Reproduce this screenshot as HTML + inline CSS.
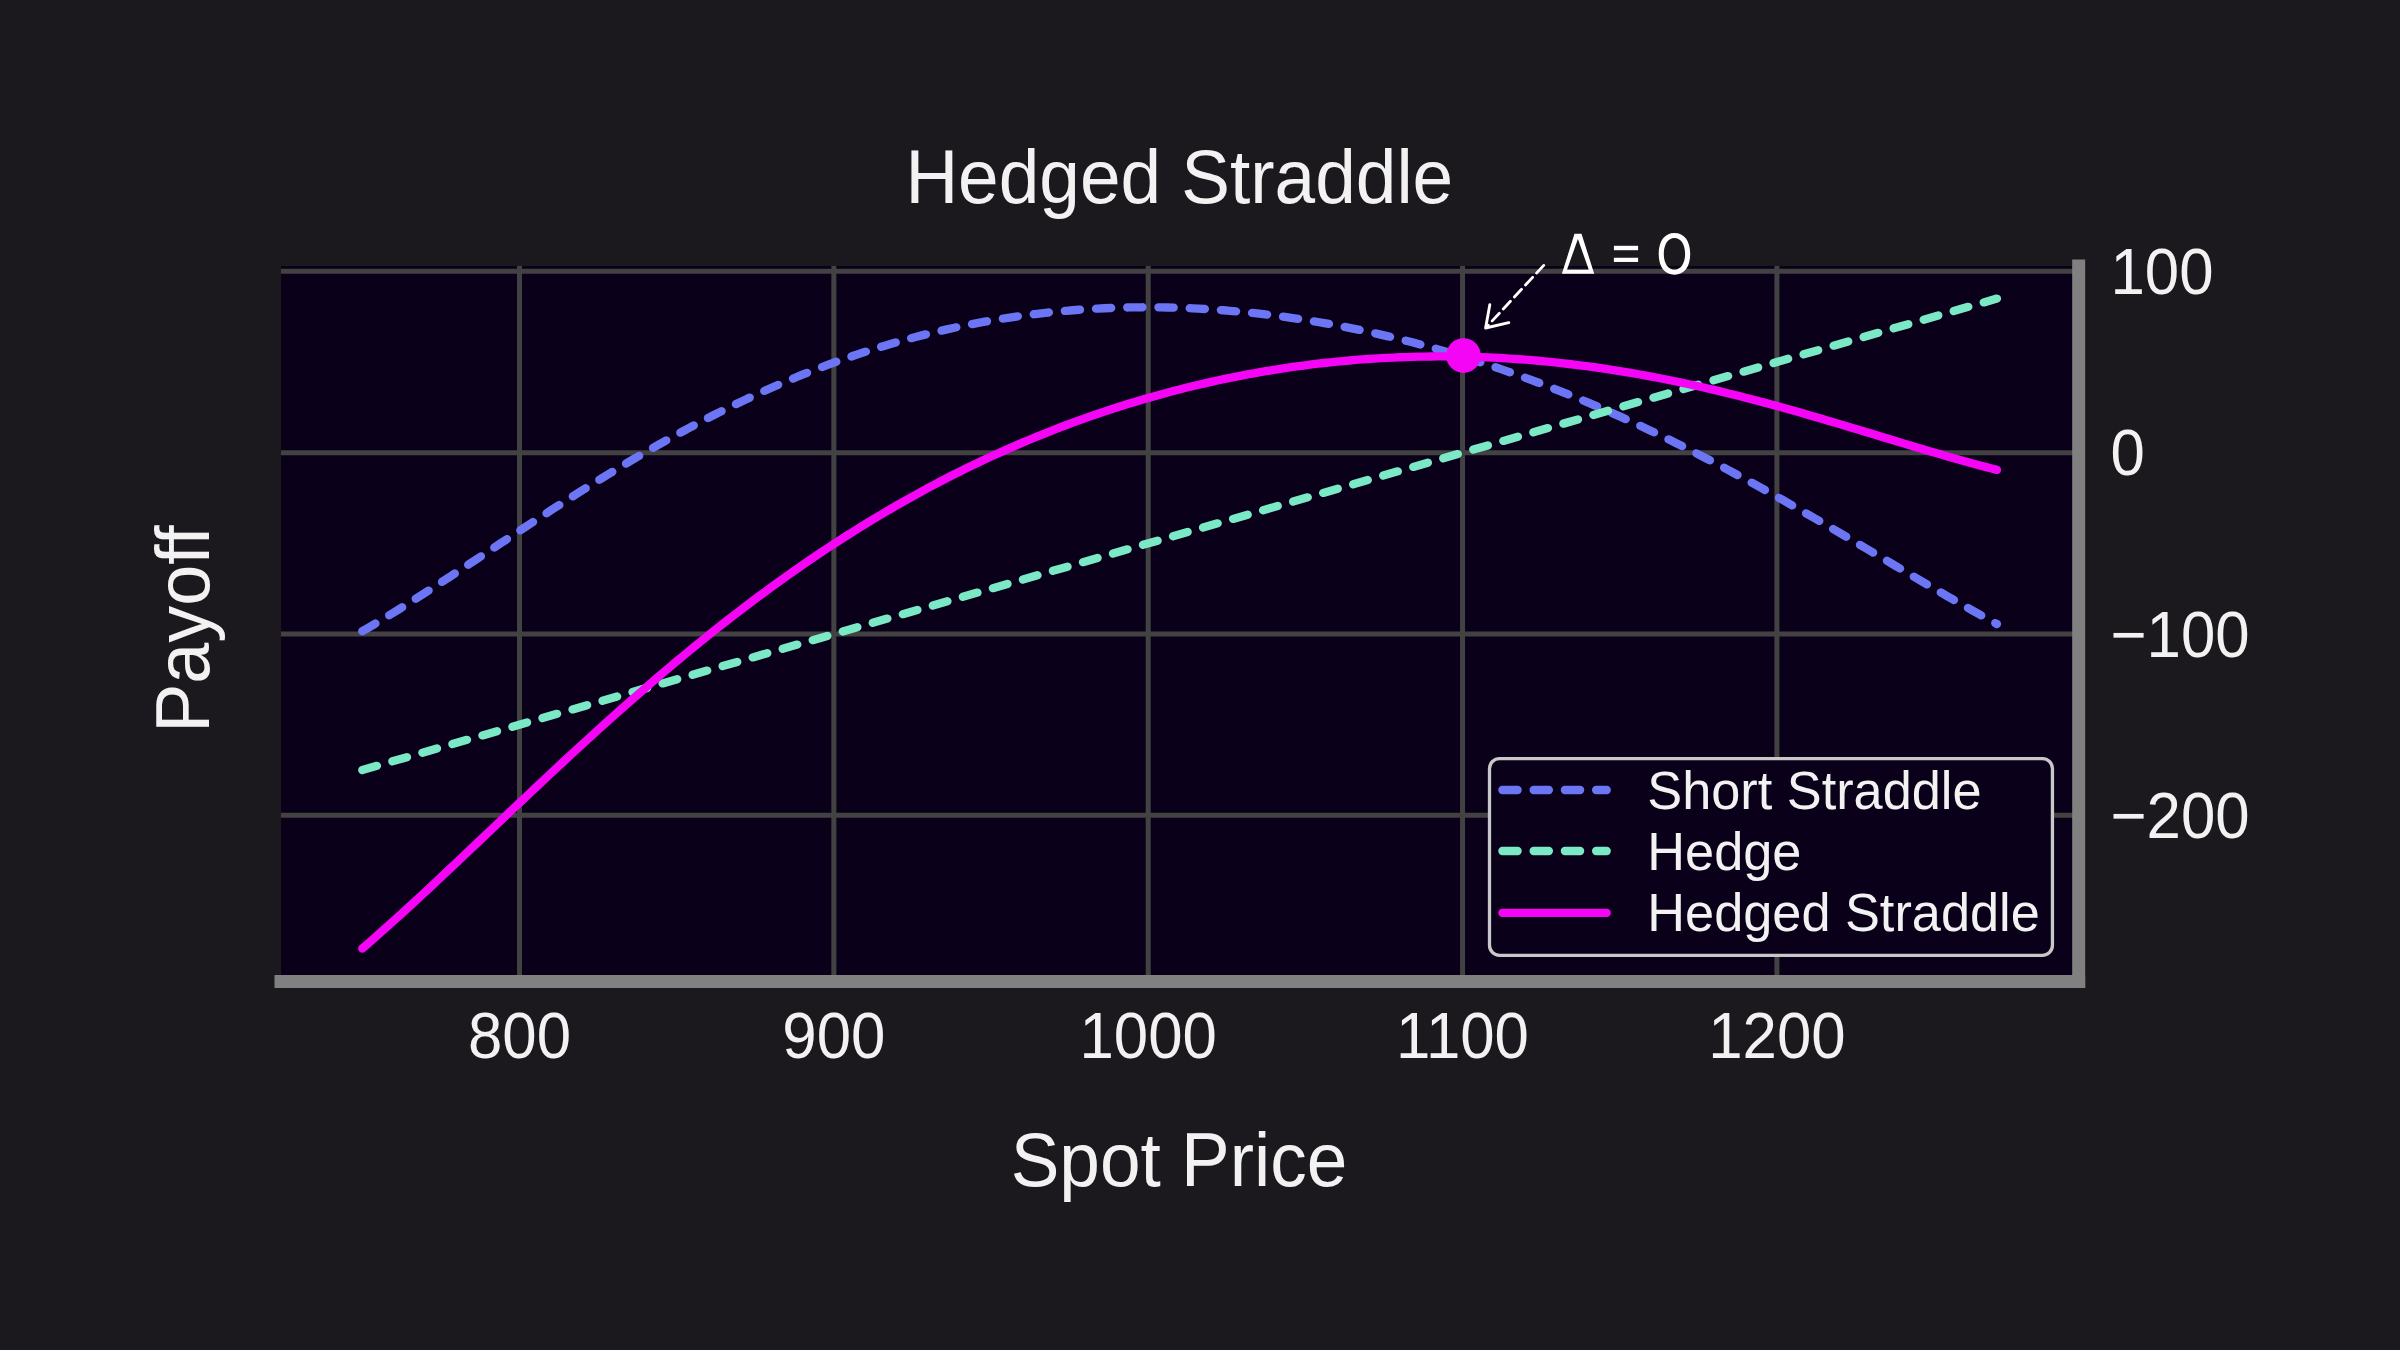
<!DOCTYPE html>
<html><head><meta charset="utf-8"><title>Hedged Straddle</title>
<style>
html,body{margin:0;padding:0;background:#1b191e;}
body{width:2400px;height:1350px;overflow:hidden;}
svg{display:block;font-family:"Liberation Sans",sans-serif;}
</style></head><body>
<svg width="2400" height="1350" viewBox="0 0 2400 1350">
<rect x="0" y="0" width="2400" height="1350" fill="#1b191e"/>
<rect x="281.00" y="266.11" width="1797.68" height="715.35" fill="#0a0019"/>
<path d="M519.50 266.11V981.46M833.85 266.11V981.46M1148.20 266.11V981.46M1462.55 266.11V981.46M1776.90 266.11V981.46M281.00 271.37H2078.68M281.00 452.70H2078.68M281.00 634.03H2078.68M281.00 815.36H2078.68" stroke="#424242" stroke-width="5" fill="none"/>
<polyline points="362.32,631.16 368.61,627.53 374.90,623.84 381.19,620.10 387.47,616.31 393.76,612.48 400.05,608.60 406.33,604.69 412.62,600.74 418.91,596.75 425.19,592.74 431.48,588.70 437.77,584.64 444.06,580.55 450.34,576.45 456.63,572.33 462.92,568.20 469.20,564.06 475.49,559.92 481.78,555.77 488.06,551.61 494.35,547.46 500.64,543.30 506.93,539.15 513.21,535.01 519.50,530.87 525.79,526.75 532.07,522.63 538.36,518.53 544.65,514.44 550.93,510.37 557.22,506.32 563.51,502.29 569.80,498.28 576.08,494.30 582.37,490.34 588.66,486.40 594.94,482.49 601.23,478.61 607.52,474.76 613.80,470.94 620.09,467.15 626.38,463.40 632.67,459.67 638.95,455.99 645.24,452.34 651.53,448.72 657.81,445.15 664.10,441.61 670.39,438.11 676.67,434.65 682.96,431.23 689.25,427.86 695.54,424.52 701.82,421.23 708.11,417.98 714.40,414.77 720.68,411.61 726.97,408.49 733.26,405.42 739.54,402.40 745.83,399.42 752.12,396.48 758.41,393.59 764.69,390.75 770.98,387.96 777.27,385.21 783.55,382.51 789.84,379.86 796.13,377.26 802.41,374.70 808.70,372.20 814.99,369.74 821.28,367.33 827.56,364.97 833.85,362.66 840.14,360.39 846.42,358.18 852.71,356.01 859.00,353.89 865.28,351.82 871.57,349.80 877.86,347.83 884.15,345.91 890.43,344.04 896.72,342.21 903.01,340.43 909.29,338.70 915.58,337.02 921.87,335.39 928.15,333.81 934.44,332.27 940.73,330.78 947.02,329.34 953.30,327.95 959.59,326.60 965.88,325.30 972.16,324.05 978.45,322.85 984.74,321.69 991.02,320.57 997.31,319.51 1003.60,318.49 1009.89,317.51 1016.17,316.59 1022.46,315.70 1028.75,314.86 1035.03,314.07 1041.32,313.32 1047.61,312.62 1053.89,311.96 1060.18,311.35 1066.47,310.78 1072.76,310.25 1079.04,309.77 1085.33,309.33 1091.62,308.93 1097.90,308.58 1104.19,308.27 1110.48,308.00 1116.76,307.77 1123.05,307.59 1129.34,307.45 1135.63,307.35 1141.91,307.29 1148.20,307.28 1154.49,307.30 1160.77,307.37 1167.06,307.48 1173.35,307.63 1179.63,307.82 1185.92,308.05 1192.21,308.32 1198.50,308.63 1204.78,308.98 1211.07,309.37 1217.36,309.80 1223.64,310.27 1229.93,310.78 1236.22,311.33 1242.51,311.92 1248.79,312.54 1255.08,313.21 1261.37,313.92 1267.65,314.66 1273.94,315.45 1280.23,316.27 1286.51,317.13 1292.80,318.03 1299.09,318.96 1305.38,319.94 1311.66,320.96 1317.95,322.01 1324.24,323.10 1330.52,324.23 1336.81,325.39 1343.10,326.60 1349.38,327.84 1355.67,329.12 1361.96,330.44 1368.24,331.80 1374.53,333.19 1380.82,334.62 1387.11,336.09 1393.39,337.60 1399.68,339.14 1405.97,340.72 1412.25,342.34 1418.54,344.00 1424.83,345.69 1431.12,347.42 1437.40,349.19 1443.69,351.00 1449.98,352.84 1456.26,354.72 1462.55,356.64 1468.84,358.59 1475.12,360.58 1481.41,362.61 1487.70,364.67 1493.99,366.77 1500.27,368.91 1506.56,371.09 1512.85,373.30 1519.13,375.55 1525.42,377.83 1531.71,380.15 1537.99,382.51 1544.28,384.90 1550.57,387.33 1556.86,389.80 1563.14,392.30 1569.43,394.83 1575.72,397.41 1582.00,400.01 1588.29,402.66 1594.58,405.33 1600.86,408.04 1607.15,410.79 1613.44,413.57 1619.72,416.39 1626.01,419.23 1632.30,422.11 1638.59,425.03 1644.87,427.98 1651.16,430.96 1657.45,433.97 1663.73,437.01 1670.02,440.09 1676.31,443.19 1682.60,446.33 1688.88,449.50 1695.17,452.69 1701.46,455.92 1707.74,459.18 1714.03,462.46 1720.32,465.77 1726.60,469.10 1732.89,472.47 1739.18,475.86 1745.46,479.27 1751.75,482.71 1758.04,486.17 1764.33,489.66 1770.61,493.16 1776.90,496.69 1783.19,500.24 1789.47,503.81 1795.76,507.39 1802.05,511.00 1808.34,514.62 1814.62,518.25 1820.91,521.90 1827.20,525.56 1833.48,529.24 1839.77,532.92 1846.06,536.62 1852.34,540.32 1858.63,544.03 1864.92,547.74 1871.20,551.46 1877.49,555.18 1883.78,558.91 1890.07,562.63 1896.35,566.35 1902.64,570.06 1908.93,573.77 1915.21,577.48 1921.50,581.17 1927.79,584.85 1934.08,588.52 1940.36,592.17 1946.65,595.81 1952.94,599.42 1959.22,603.02 1965.51,606.59 1971.80,610.13 1978.08,613.64 1984.37,617.13 1990.66,620.58 1996.94,623.99" fill="none" stroke="#6c75f3" stroke-width="8.33" stroke-linecap="round" stroke-linejoin="round" stroke-dasharray="15.2 16.05"/>
<polyline points="362.32,770.03 1996.94,298.57" fill="none" stroke="#7be9c6" stroke-width="8.33" stroke-linecap="round" stroke-linejoin="round" stroke-dasharray="15.2 16.05"/>
<polyline points="362.32,948.49 368.61,943.04 374.90,937.54 381.19,931.99 387.47,926.39 393.76,920.74 400.05,915.05 406.33,909.32 412.62,903.56 418.91,897.76 425.19,891.93 431.48,886.08 437.77,880.20 444.06,874.31 450.34,868.39 456.63,862.46 462.92,856.52 469.20,850.57 475.49,844.61 481.78,838.64 488.06,832.67 494.35,826.70 500.64,820.74 506.93,814.77 513.21,808.82 519.50,802.87 525.79,796.93 532.07,791.00 538.36,785.09 544.65,779.19 550.93,773.30 557.22,767.44 563.51,761.60 569.80,755.77 576.08,749.97 582.37,744.20 588.66,738.45 594.94,732.73 601.23,727.03 607.52,721.37 613.80,715.73 620.09,710.13 626.38,704.56 632.67,699.03 638.95,693.53 645.24,688.07 651.53,682.64 657.81,677.25 664.10,671.90 670.39,666.58 676.67,661.31 682.96,656.08 689.25,650.89 695.54,645.74 701.82,640.64 708.11,635.57 714.40,630.56 720.68,625.58 726.97,620.65 733.26,615.77 739.54,610.93 745.83,606.13 752.12,601.38 758.41,596.68 764.69,592.03 770.98,587.42 777.27,582.86 783.55,578.35 789.84,573.89 796.13,569.47 802.41,565.10 808.70,560.78 814.99,556.51 821.28,552.29 827.56,548.11 833.85,543.99 840.14,539.91 846.42,535.88 852.71,531.90 859.00,527.97 865.28,524.09 871.57,520.25 877.86,516.47 884.15,512.73 890.43,509.05 896.72,505.41 903.01,501.82 909.29,498.28 915.58,494.78 921.87,491.34 928.15,487.94 934.44,484.59 940.73,481.29 947.02,478.03 953.30,474.83 959.59,471.67 965.88,468.55 972.16,465.49 978.45,462.47 984.74,459.50 991.02,456.57 997.31,453.69 1003.60,450.86 1009.89,448.07 1016.17,445.33 1022.46,442.63 1028.75,439.98 1035.03,437.38 1041.32,434.81 1047.61,432.30 1053.89,429.83 1060.18,427.40 1066.47,425.01 1072.76,422.67 1079.04,420.38 1085.33,418.13 1091.62,415.92 1097.90,413.75 1104.19,411.63 1110.48,409.54 1116.76,407.51 1123.05,405.51 1129.34,403.55 1135.63,401.64 1141.91,399.77 1148.20,397.94 1154.49,396.16 1160.77,394.41 1167.06,392.70 1173.35,391.04 1179.63,389.41 1185.92,387.83 1192.21,386.29 1198.50,384.79 1204.78,383.32 1211.07,381.90 1217.36,380.52 1223.64,379.17 1229.93,377.87 1236.22,376.61 1242.51,375.38 1248.79,374.20 1255.08,373.05 1261.37,371.94 1267.65,370.87 1273.94,369.84 1280.23,368.85 1286.51,367.90 1292.80,366.99 1299.09,366.11 1305.38,365.27 1311.66,364.47 1317.95,363.71 1324.24,362.99 1330.52,362.31 1336.81,361.66 1343.10,361.05 1349.38,360.48 1355.67,359.95 1361.96,359.45 1368.24,359.00 1374.53,358.58 1380.82,358.19 1387.11,357.85 1393.39,357.54 1399.68,357.27 1405.97,357.04 1412.25,356.85 1418.54,356.69 1424.83,356.57 1431.12,356.49 1437.40,356.44 1443.69,356.44 1449.98,356.47 1456.26,356.53 1462.55,356.64 1468.84,356.78 1475.12,356.95 1481.41,357.17 1487.70,357.42 1493.99,357.71 1500.27,358.03 1506.56,358.39 1512.85,358.79 1519.13,359.23 1525.42,359.70 1531.71,360.21 1537.99,360.75 1544.28,361.33 1550.57,361.95 1556.86,362.60 1563.14,363.29 1569.43,364.01 1575.72,364.77 1582.00,365.56 1588.29,366.39 1594.58,367.25 1600.86,368.15 1607.15,369.08 1613.44,370.05 1619.72,371.05 1626.01,372.09 1632.30,373.16 1638.59,374.26 1644.87,375.39 1651.16,376.56 1657.45,377.76 1663.73,378.99 1670.02,380.25 1676.31,381.54 1682.60,382.87 1688.88,384.22 1695.17,385.60 1701.46,387.02 1707.74,388.46 1714.03,389.93 1720.32,391.42 1726.60,392.95 1732.89,394.50 1739.18,396.07 1745.46,397.67 1751.75,399.30 1758.04,400.95 1764.33,402.62 1770.61,404.31 1776.90,406.03 1783.19,407.76 1789.47,409.51 1795.76,411.29 1802.05,413.08 1808.34,414.88 1814.62,416.71 1820.91,418.54 1827.20,420.39 1833.48,422.25 1839.77,424.12 1846.06,426.01 1852.34,427.89 1858.63,429.79 1864.92,431.69 1871.20,433.60 1877.49,435.51 1883.78,437.42 1890.07,439.32 1896.35,441.23 1902.64,443.13 1908.93,445.03 1915.21,446.92 1921.50,448.80 1927.79,450.67 1934.08,452.52 1940.36,454.36 1946.65,456.18 1952.94,457.99 1959.22,459.77 1965.51,461.52 1971.80,463.25 1978.08,464.95 1984.37,466.62 1990.66,468.26 1996.94,469.86" fill="none" stroke="#f505f5" stroke-width="8.33" stroke-linecap="round" stroke-linejoin="round"/>
<circle cx="1463.50" cy="355.60" r="17.3" fill="#f505f5"/>
<path d="M281.00 981.46H2078.68" stroke="#808080" stroke-width="13" stroke-linecap="square" fill="none"/>
<path d="M2078.68 266.11V981.46" stroke="#808080" stroke-width="13" stroke-linecap="square" fill="none"/>
<rect x="1489.5" y="758.6" width="562.95" height="196.75" rx="10" ry="10" fill="#0a0019" stroke="#c8c8c8" stroke-width="3.3"/>
<path d="M1502.4 790.00H1606.7" stroke="#6c75f3" stroke-width="8.33" stroke-linecap="round" fill="none" stroke-dasharray="15.2 16.05"/>
<path d="M1502.4 851.00H1606.7" stroke="#7be9c6" stroke-width="8.33" stroke-linecap="round" fill="none" stroke-dasharray="15.2 16.05"/>
<path d="M1502.4 912.90H1606.7" stroke="#f505f5" stroke-width="8.33" stroke-linecap="round" fill="none"/>
<text transform="translate(1647.30 808.50) scale(1 1.030)" font-size="52.30" text-anchor="start" fill="#f2f2f2">Short Straddle</text>
<text transform="translate(1647.30 869.90) scale(1 1.030)" font-size="52.30" text-anchor="start" fill="#f2f2f2">Hedge</text>
<text transform="translate(1647.30 931.40) scale(1 1.030)" font-size="52.30" text-anchor="start" fill="#f2f2f2">Hedged Straddle</text>
<text transform="translate(1179.30 203.00) scale(1 1.030)" font-size="73.00" text-anchor="middle" fill="#f2f2f2">Hedged Straddle</text>
<text transform="translate(1179.00 1185.70) scale(1 1.030)" font-size="73.00" text-anchor="middle" fill="#f2f2f2">Spot Price</text>
<text transform="translate(209.00 629.00) rotate(-90) scale(1 1.030)" font-size="73.70" text-anchor="middle" fill="#f2f2f2">Payoff</text>
<text transform="translate(519.50 1057.80) scale(1 1.057)" font-size="61.80" text-anchor="middle" fill="#f2f2f2">800</text>
<text transform="translate(833.85 1057.80) scale(1 1.057)" font-size="61.80" text-anchor="middle" fill="#f2f2f2">900</text>
<text transform="translate(1148.20 1057.80) scale(1 1.057)" font-size="61.80" text-anchor="middle" fill="#f2f2f2">1000</text>
<text transform="translate(1462.55 1057.80) scale(1 1.057)" font-size="61.80" text-anchor="middle" fill="#f2f2f2">1100</text>
<text transform="translate(1776.90 1057.80) scale(1 1.057)" font-size="61.80" text-anchor="middle" fill="#f2f2f2">1200</text>
<text transform="translate(2110.50 293.87) scale(1 1.057)" font-size="61.80" text-anchor="start" fill="#f2f2f2">100</text>
<text transform="translate(2110.50 475.20) scale(1 1.057)" font-size="61.80" text-anchor="start" fill="#f2f2f2">0</text>
<text transform="translate(2110.50 656.53) scale(1 1.057)" font-size="61.80" text-anchor="start" fill="#f2f2f2">−100</text>
<text transform="translate(2110.50 837.86) scale(1 1.057)" font-size="61.80" text-anchor="start" fill="#f2f2f2">−200</text>
<path d="M1543.7 265.4L1486.5 327.0" stroke="#ffffff" stroke-width="2.8" stroke-linecap="round" stroke-dasharray="10.5 5.8" fill="none"/>
<path d="M1489.8 304.8L1485.6 328.0L1508.8 322.6" stroke="#ffffff" stroke-width="2.9" stroke-linecap="round" stroke-linejoin="round" fill="none"/>
<path d="M1574.5 233.8L1581.5 233.8L1594.2 273.8L1561.9 273.8ZM1577.9 239.1L1567.0 269.7L1588.8 269.7Z" fill="#ffffff" fill-rule="evenodd"/>
<rect x="1613.9" y="245.8" width="24.2" height="4.4" fill="#ffffff"/>
<rect x="1613.9" y="257.75" width="24.2" height="4.2" fill="#ffffff"/>
<path d="M1690.20 253.85C1690.20 266.78 1684.22 274.70 1674.45 274.70C1664.68 274.70 1658.70 266.78 1658.70 253.85C1658.70 240.92 1664.68 233.00 1674.45 233.00C1684.22 233.00 1690.20 240.92 1690.20 253.85ZM1685.10 253.80C1685.10 263.34 1680.84 269.70 1674.45 269.70C1668.06 269.70 1663.80 263.34 1663.80 253.80C1663.80 244.26 1668.06 237.90 1674.45 237.90C1680.84 237.90 1685.10 244.26 1685.10 253.80Z" fill="#ffffff" fill-rule="evenodd"/>
</svg>
</body></html>
